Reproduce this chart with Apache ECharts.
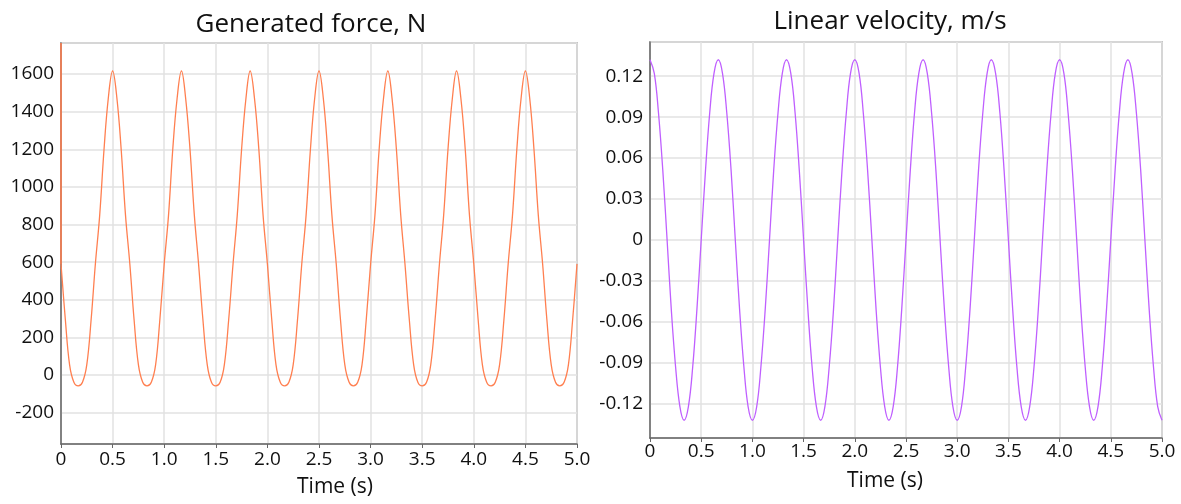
<!DOCTYPE html>
<html>
<head>
<meta charset="utf-8">
<script src="https://cdn.jsdelivr.net/npm/echarts@6/dist/echarts.min.js"></script>
<style>
  html, body { margin: 0; padding: 0; background: #fff; }
  #chart { width: 1181px; height: 504px; }
</style>
</head>
<body>
<div id="chart"></div>
<script>
// sample times (s), 1/24 s apart
var time = [
  0, 0.042, 0.083, 0.125, 0.167, 0.208, 0.25, 0.292, 0.333, 0.375, 0.417, 0.458, 0.5, 0.542, 0.583, 0.625, 0.667, 0.708, 0.75, 0.792, 0.833, 0.875, 0.917, 0.958,
  1, 1.042, 1.083, 1.125, 1.167, 1.208, 1.25, 1.292, 1.333, 1.375, 1.417, 1.458, 1.5, 1.542, 1.583, 1.625, 1.667, 1.708, 1.75, 1.792, 1.833, 1.875, 1.917, 1.958,
  2, 2.042, 2.083, 2.125, 2.167, 2.208, 2.25, 2.292, 2.333, 2.375, 2.417, 2.458, 2.5, 2.542, 2.583, 2.625, 2.667, 2.708, 2.75, 2.792, 2.833, 2.875, 2.917, 2.958,
  3, 3.042, 3.083, 3.125, 3.167, 3.208, 3.25, 3.292, 3.333, 3.375, 3.417, 3.458, 3.5, 3.542, 3.583, 3.625, 3.667, 3.708, 3.75, 3.792, 3.833, 3.875, 3.917, 3.958,
  4, 4.042, 4.083, 4.125, 4.167, 4.208, 4.25, 4.292, 4.333, 4.375, 4.417, 4.458, 4.5, 4.542, 4.583, 4.625, 4.667, 4.708, 4.75, 4.792, 4.833, 4.875, 4.917, 4.958,
  5
];

// generated force, N
var force = [
  590, 295, 55, -39, -58, -39, 55, 295, 590, 850, 1200, 1470, 1616, 1470, 1200, 850,
  590, 295, 55, -39, -58, -39, 55, 295, 590, 850, 1200, 1470, 1616, 1470, 1200, 850,
  590, 295, 55, -39, -58, -39, 55, 295, 590, 850, 1200, 1470, 1616, 1470, 1200, 850,
  590, 295, 55, -39, -58, -39, 55, 295, 590, 850, 1200, 1470, 1616, 1470, 1200, 850,
  590, 295, 55, -39, -58, -39, 55, 295, 590, 850, 1200, 1470, 1616, 1470, 1200, 850,
  590, 295, 55, -39, -58, -39, 55, 295, 590, 850, 1200, 1470, 1616, 1470, 1200, 850,
  590, 295, 55, -39, -58, -39, 55, 295, 590, 850, 1200, 1470, 1616, 1470, 1200, 850,
  590, 295, 55, -39, -58, -39, 55, 295, 590
];

// start-up spike of the force at t = 0
var startTime = [0, 0];
var startForce = [1765, 590];

// linear velocity, m/s
var velocity = [
  0.132, 0.122, 0.093, 0.051, 0, -0.051, -0.093, -0.122, -0.132, -0.122, -0.093, -0.051, 0, 0.051, 0.093, 0.122,
  0.132, 0.122, 0.093, 0.051, 0, -0.051, -0.093, -0.122, -0.132, -0.122, -0.093, -0.051, 0, 0.051, 0.093, 0.122,
  0.132, 0.122, 0.093, 0.051, 0, -0.051, -0.093, -0.122, -0.132, -0.122, -0.093, -0.051, 0, 0.051, 0.093, 0.122,
  0.132, 0.122, 0.093, 0.051, 0, -0.051, -0.093, -0.122, -0.132, -0.122, -0.093, -0.051, 0, 0.051, 0.093, 0.122,
  0.132, 0.122, 0.093, 0.051, 0, -0.051, -0.093, -0.122, -0.132, -0.122, -0.093, -0.051, 0, 0.051, 0.093, 0.122,
  0.132, 0.122, 0.093, 0.051, 0, -0.051, -0.093, -0.122, -0.132, -0.122, -0.093, -0.051, 0, 0.051, 0.093, 0.122,
  0.132, 0.122, 0.093, 0.051, 0, -0.051, -0.093, -0.122, -0.132, -0.122, -0.093, -0.051, 0, 0.051, 0.093, 0.122,
  0.132, 0.122, 0.093, 0.051, 0, -0.051, -0.093, -0.122, -0.132
];

function pairs(xs, ys) {
  return xs.map(function (x, i) { return [x, ys[i]]; });
}

var textColor = '#111';
var gridLine = { show: true, lineStyle: { color: '#e2e2e2', width: 1.5 } };
var axisDark = { show: true, onZero: false, lineStyle: { color: '#666', width: 1.5 } };

function timeAxis(idx, namePad, labelMargin) {
  return {
    type: 'value', gridIndex: idx, min: 0, max: 5, interval: 0.5,
    axisLine: axisDark,
    axisTick: { show: true, length: 4, lineStyle: { color: '#666' } },
    axisLabel: {
      fontSize: 19, color: textColor, margin: labelMargin,
      formatter: function (v) { return v === 0 ? '0' : v.toFixed(1); }
    },
    splitLine: gridLine,
    name: 'Time (s)', nameLocation: 'middle', nameGap: 33,
    nameTextStyle: { fontSize: 21, color: textColor, padding: namePad }
  };
}

var chart = echarts.init(document.getElementById('chart'));
chart.setOption({
  animation: false,
  textStyle: { fontFamily: 'Open Sans' },
  title: [
    { text: 'Generated force, N', left: 306, top: 7, textAlign: 'center',
      textStyle: { fontSize: 26, fontWeight: 'normal', color: textColor } },
    { text: 'Linear velocity, m/s', left: 885, top: 4, textAlign: 'center',
      textStyle: { fontSize: 26, fontWeight: 'normal', color: textColor } }
  ],
  grid: [
    { left: 61, top: 43, width: 516, height: 401, show: true, borderColor: '#999', borderWidth: 1.5 },
    { left: 650, top: 42, width: 512, height: 396, show: true, borderColor: '#999', borderWidth: 1.5 }
  ],
  xAxis: [
    timeAxis(0, [0, 0, 0, 32], 6),
    timeAxis(1, [0, 42, 0, 0], 4)
  ],
  yAxis: [
    {
      type: 'value', gridIndex: 0, min: -367, max: 1765, splitNumber: 10,
      axisLine: axisDark, axisTick: { show: false },
      axisLabel: {
        fontSize: 19, color: textColor, margin: 7, showMinLabel: false, showMaxLabel: false,
        formatter: function (v) { return String(v); }
      },
      splitLine: gridLine
    },
    {
      type: 'value', gridIndex: 1, min: -0.145, max: 0.145, splitNumber: 10,
      axisLine: axisDark, axisTick: { show: false },
      axisLabel: {
        fontSize: 19, color: textColor, margin: 7, showMinLabel: false, showMaxLabel: false,
        formatter: function (v) { return Math.abs(v) < 1e-9 ? '0' : v.toFixed(2); }
      },
      splitLine: gridLine
    }
  ],
  series: [
    {
      name: 'Generated force', type: 'line', xAxisIndex: 0, yAxisIndex: 0,
      data: pairs(time, force), smooth: 0.4, showSymbol: false,
      lineStyle: { color: '#ff7f50', width: 1.3 }
    },
    {
      name: 'Start', type: 'line', xAxisIndex: 0, yAxisIndex: 0,
      data: pairs(startTime, startForce), showSymbol: false,
      lineStyle: { color: '#ff7f50', width: 1.6 }
    },
    {
      name: 'Linear velocity', type: 'line', xAxisIndex: 1, yAxisIndex: 1,
      data: pairs(time, velocity), smooth: 0.4, showSymbol: false,
      lineStyle: { color: '#bf5fff', width: 1.3 }
    }
  ]
});
</script>
</body>
</html>
